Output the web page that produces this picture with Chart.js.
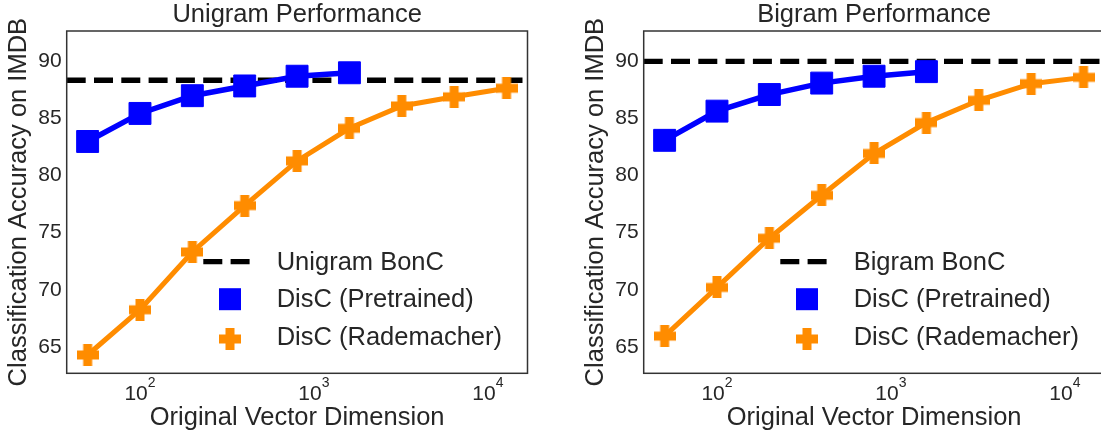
<!DOCTYPE html>
<html>
<head>
<meta charset="utf-8">
<script src="https://cdn.jsdelivr.net/npm/chart.js@4.4.1/dist/chart.umd.min.js"></script>
<style>
  html, body { margin: 0; padding: 0; background: #fff; overflow: hidden; }
  body { width: 1101px; height: 433px; position: relative; }
  .panel { position: absolute; top: 0; }
</style>
</head>
<body>
<div class="panel" style="left:0"><canvas id="unigramChart" width="552" height="433"></canvas></div>
<div class="panel" style="left:577px"><canvas id="bigramChart" width="552" height="433"></canvas></div>
<script>
// dimensions on the x axis
const dims = [50, 100, 200, 400, 800, 1600, 3200, 6400, 12800];
const pretrainedDims = [50, 100, 200, 400, 800, 1600];
const xTicks = [100, 1000, 10000];
const yTicks = [65, 70, 75, 80, 85, 90];
const xLimits = [37.9, 16900];
const yLimits = [62.7, 92.6];

// Unigram
const unigramPretrained = [82.95, 85.4, 86.95, 87.8, 88.65, 88.95];
const unigramRademacher = [64.3, 68.25, 73.3, 77.35, 81.25, 84.1, 86.05, 86.85, 87.6];
const unigramBonC = 88.3;

// Bigram
const bigramPretrained = [83.05, 85.6, 87.05, 88.05, 88.65, 89.05];
const bigramRademacher = [65.95, 70.2, 74.5, 78.25, 81.9, 84.6, 86.55, 88.0, 88.55];
const bigramBonC = 89.95;

const FONT = '"Liberation Sans", Arial, sans-serif';
const TEXT = '#262626';
const BLUE = '#0000ff';
const ORANGE = '#ff8c00';

// filled plus marker (like matplotlib 'P')
function makePlus(size, arm, color) {
    const c = document.createElement('canvas');
    c.width = size;
    c.height = size;
    const ctx = c.getContext('2d');
    ctx.fillStyle = color;
    const a = (size - arm) / 2;
    ctx.fillRect(a, 0, arm, size);
    ctx.fillRect(0, a, size, arm);
    return c;
}
const plusMarker = makePlus(22, 9, ORANGE);

// frame + x tick labels with exponents + legend inside the plot
const decorPlugin = {
    id: 'decor',
    afterDatasetsDraw(chart) {
        const { ctx, chartArea } = chart;
        ctx.save();
        ctx.strokeStyle = '#333';
        ctx.lineWidth = 1.5;
        ctx.strokeRect(chartArea.left, chartArea.top, chartArea.right - chartArea.left, chartArea.bottom - chartArea.top);
        ctx.restore();
    },
    afterDraw(chart) {
        const { ctx, chartArea } = chart;
        const xScale = chart.scales.x;
        ctx.save();
        ctx.fillStyle = TEXT;
        ctx.textBaseline = 'alphabetic';
        ctx.textAlign = 'left';
        const baseY = chartArea.bottom + 26.4;
        xTicks.forEach(v => {
            const px = xScale.getPixelForValue(v);
            const exp = String(Math.round(Math.log10(v)));
            ctx.font = '21px ' + FONT;
            const w1 = ctx.measureText('10').width;
            ctx.font = '14px ' + FONT;
            const w2 = ctx.measureText(exp).width;
            const start = px - (w1 + w2) / 2;
            ctx.font = '21px ' + FONT;
            ctx.fillText('10', start, baseY);
            ctx.font = '14px ' + FONT;
            ctx.fillText(exp, start + w1, baseY - 13);
        });

        // legend
        const ds = chart.data.datasets;
        const hx = chartArea.left + 136.6;
        const tx = chartArea.left + 210;
        const b = chartArea.bottom;

        ctx.strokeStyle = ds[0].borderColor;
        ctx.lineWidth = ds[0].borderWidth;
        ctx.setLineDash(ds[0].borderDash);
        ctx.beginPath();
        ctx.moveTo(hx, b - 111.6);
        ctx.lineTo(hx + 47.4, b - 111.6);
        ctx.stroke();
        ctx.setLineDash([]);

        ctx.fillStyle = ds[1].pointBackgroundColor;
        ctx.fillRect(hx + 15.7, b - 74.1 - 11, 22, 22);
        ctx.drawImage(plusMarker, hx + 26.7 - 11, b - 34.3 - 11);

        ctx.fillStyle = TEXT;
        ctx.font = '25.5px ' + FONT;
        ctx.textBaseline = 'middle';
        ctx.fillText(ds[0].label, tx, b - 110.8);
        ctx.fillText(ds[1].label, tx, b - 73.3);
        ctx.fillText(ds[2].label, tx, b - 35.8);
        ctx.restore();
    }
};

function buildChart(canvasId, title, boncLabel, pretrained, rademacher, bonc) {
    const ctx = document.getElementById(canvasId).getContext('2d');
    return new Chart(ctx, {
        type: 'line',
        data: {
            datasets: [
                {
                    label: boncLabel,
                    data: [{ x: xLimits[0], y: bonc }, { x: xLimits[1], y: bonc }],
                    borderColor: '#000',
                    borderWidth: 5.3,
                    borderDash: [19, 8.3],
                    pointRadius: 0,
                    order: 3
                },
                {
                    label: 'DisC (Pretrained)',
                    data: pretrainedDims.map((d, i) => ({ x: d, y: pretrained[i] })),
                    borderColor: BLUE,
                    borderWidth: 5.5,
                    pointStyle: 'rect',
                    pointRadius: 15.5,
                    pointBackgroundColor: BLUE,
                    pointBorderColor: BLUE,
                    pointBorderWidth: 1,
                    order: 2
                },
                {
                    label: 'DisC (Rademacher)',
                    data: dims.map((d, i) => ({ x: d, y: rademacher[i] })),
                    borderColor: ORANGE,
                    borderWidth: 5,
                    pointStyle: plusMarker,
                    pointRadius: 11,
                    pointBackgroundColor: ORANGE,
                    order: 1
                }
            ]
        },
        options: {
            responsive: false,
            animation: false,
            events: [],
            layout: { padding: { left: 0, right: 24.5, top: 0, bottom: 0 } },
            scales: {
                x: {
                    type: 'logarithmic',
                    min: xLimits[0],
                    max: xLimits[1],
                    grid: { display: false, drawTicks: false },
                    border: { display: false },
                    ticks: { display: false },
                    afterBuildTicks: scale => { scale.ticks = xTicks.map(v => ({ value: v })); },
                    afterFit: scale => { scale.height = 59.7; },
                    title: {
                        display: true,
                        text: 'Original Vector Dimension',
                        color: TEXT,
                        font: { family: FONT, size: 25.5, lineHeight: 1 },
                        padding: { top: 0, bottom: 2.4 }
                    }
                },
                y: {
                    min: yLimits[0],
                    max: yLimits[1],
                    grid: { display: false, drawTicks: false },
                    border: { display: false },
                    ticks: {
                        color: TEXT,
                        padding: 5,
                        font: { family: FONT, size: 21 }
                    },
                    afterBuildTicks: scale => { scale.ticks = yTicks.map(v => ({ value: v })); },
                    afterFit: scale => { scale.width = 66.7; },
                    title: {
                        display: true,
                        text: 'Classification Accuracy on IMDB',
                        color: TEXT,
                        font: { family: FONT, size: 25.5, lineHeight: 1 },
                        padding: { top: 6.3, bottom: 0 }
                    }
                }
            },
            plugins: {
                legend: { display: false },
                tooltip: { enabled: false },
                title: {
                    display: true,
                    text: title,
                    fullSize: false,
                    color: TEXT,
                    font: { family: FONT, size: 25.5, weight: 'normal', lineHeight: 1.1 },
                    padding: { top: 0.5, bottom: 2.45 }
                }
            }
        },
        plugins: [decorPlugin]
    });
}

buildChart('unigramChart', 'Unigram Performance', 'Unigram BonC', unigramPretrained, unigramRademacher, unigramBonC);
buildChart('bigramChart', 'Bigram Performance', 'Bigram BonC', bigramPretrained, bigramRademacher, bigramBonC);
</script>
</body>
</html>
